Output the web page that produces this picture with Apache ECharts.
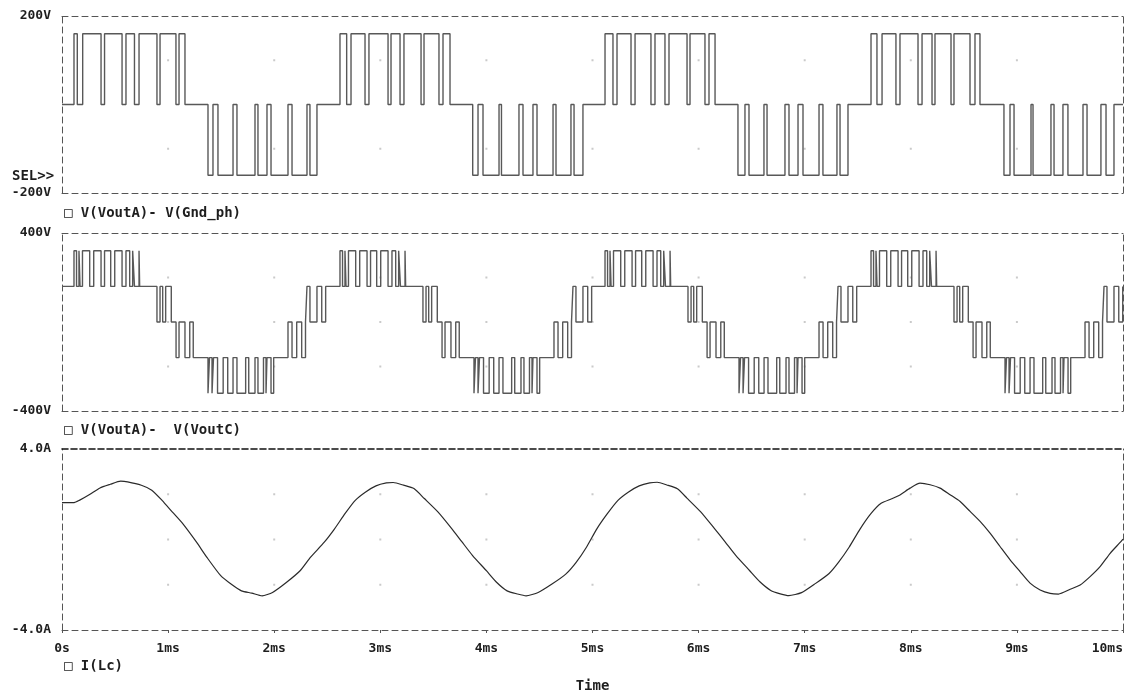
<!DOCTYPE html>
<html>
<head>
<meta charset="utf-8">
<script src="https://cdn.jsdelivr.net/npm/echarts@6/dist/echarts.min.js"></script>
<style>
  html, body { margin: 0; padding: 0; background: #fff; }
  #chart { width: 1132px; height: 696px; }
</style>
</head>
<body>
<div id="chart"></div>
<script>
// Time axis (ms) and its tick values
const timeTicks = [0, 1, 2, 3, 4, 5, 6, 7, 8, 9, 10];

// V(VoutA)-V(Gnd_ph): level (V) that holds from each switching instant (ms)
const phaseStart = 0;
const phaseSteps = [
  [0.113, 160], [0.144, 0], [0.195, 160], [0.368, 0], [0.401, 160], [0.566, 0], [0.603, 160],
  [0.683, 0], [0.726, 160], [0.895, 0], [0.924, 160], [1.074, 0], [1.103, 160], [1.159, 0],
  [1.376, -160], [1.423, 0], [1.470, -160], [1.612, 0], [1.649, -160], [1.819, 0], [1.847, -160],
  [1.932, 0], [1.970, -160], [2.130, 0], [2.168, -160], [2.309, 0], [2.337, -160], [2.403, 0],
  [2.620, 160], [2.683, 0], [2.724, 160], [2.856, 0], [2.893, 160], [3.073, 0], [3.101, 160],
  [3.186, 0], [3.223, 160], [3.384, 0], [3.412, 160], [3.553, 0], [3.591, 160], [3.657, 0],
  [3.871, -160], [3.921, 0], [3.968, -160], [4.119, 0], [4.142, -160], [4.307, 0], [4.345, -160],
  [4.439, 0], [4.477, -160], [4.628, 0], [4.656, -160], [4.797, 0], [4.826, -160], [4.910, 0],
  [5.118, 160], [5.193, 0], [5.231, 160], [5.363, 0], [5.401, 160], [5.551, 0], [5.589, 160],
  [5.683, 0], [5.721, 160], [5.891, 0], [5.919, 160], [6.060, 0], [6.098, 160], [6.155, 0],
  [6.371, -160], [6.437, 0], [6.475, -160], [6.616, 0], [6.645, -160], [6.814, 0], [6.852, -160],
  [6.937, 0], [6.984, -160], [7.135, 0], [7.172, -160], [7.304, 0], [7.333, -160], [7.408, 0],
  [7.625, 160], [7.681, 0], [7.729, 160], [7.860, 0], [7.898, 160], [8.068, 0], [8.106, 160],
  [8.200, 0], [8.228, 160], [8.379, 0], [8.407, 160], [8.558, 0], [8.605, 160], [8.652, 0],
  [8.878, -160], [8.935, 0], [8.973, -160], [9.133, 0], [9.152, -160], [9.321, 0], [9.350, -160],
  [9.434, 0], [9.481, -160], [9.623, 0], [9.661, -160], [9.792, 0], [9.840, -160], [9.915, 0]
];

// V(VoutA)-V(VoutC): five-level line voltage, level (V) from each instant (ms)
const lineStart = 160;
const lineSteps = [
  [0.113, 320], [0.137, 160], [0.160, 320], [0.170, 160], [0.193, 320], [0.261, 160], [0.299, 320],
  [0.368, 160], [0.401, 320], [0.459, 160], [0.497, 320], [0.566, 160], [0.603, 320], [0.638, 160],
  [0.666, 320], [0.683, 160], [0.726, 320], [0.732, 160], [0.895, 0], [0.924, 160], [0.949, 0],
  [0.977, 160], [1.030, 0], [1.075, -160], [1.103, 0], [1.159, -160], [1.204, 0], [1.237, -160],
  [1.376, -320], [1.390, -160], [1.414, -320], [1.428, -160], [1.466, -320], [1.519, -160],
  [1.562, -320], [1.612, -160], [1.649, -320], [1.731, -160], [1.760, -320], [1.819, -160],
  [1.847, -320], [1.899, -160], [1.923, -320], [1.932, -160], [1.970, -320], [1.995, -160],
  [2.130, 0], [2.168, -160], [2.212, 0], [2.259, -160], [2.295, 0], [2.309, 160], [2.337, 0],
  [2.403, 160], [2.448, 0], [2.485, 160],
  [2.620, 320], [2.644, 160], [2.667, 320], [2.677, 160], [2.700, 320], [2.768, 160], [2.806, 320],
  [2.875, 160], [2.908, 320], [2.966, 160], [3.004, 320], [3.073, 160], [3.110, 320], [3.145, 160],
  [3.173, 320], [3.190, 160], [3.233, 320], [3.239, 160], [3.402, 0], [3.431, 160], [3.456, 0],
  [3.484, 160], [3.537, 0], [3.582, -160], [3.610, 0], [3.666, -160], [3.711, 0], [3.744, -160],
  [3.883, -320], [3.897, -160], [3.921, -320], [3.935, -160], [3.973, -320], [4.026, -160],
  [4.069, -320], [4.119, -160], [4.156, -320], [4.238, -160], [4.267, -320], [4.326, -160],
  [4.354, -320], [4.406, -160], [4.430, -320], [4.439, -160], [4.477, -320], [4.502, -160],
  [4.637, 0], [4.675, -160], [4.719, 0], [4.766, -160], [4.802, 0], [4.816, 160], [4.844, 0],
  [4.910, 160], [4.955, 0], [4.992, 160],
  [5.118, 320], [5.142, 160], [5.165, 320], [5.175, 160], [5.198, 320], [5.266, 160], [5.304, 320],
  [5.373, 160], [5.406, 320], [5.464, 160], [5.502, 320], [5.571, 160], [5.608, 320], [5.643, 160],
  [5.671, 320], [5.688, 160], [5.731, 320], [5.737, 160], [5.900, 0], [5.929, 160], [5.954, 0],
  [5.982, 160], [6.035, 0], [6.080, -160], [6.108, 0], [6.164, -160], [6.209, 0], [6.242, -160],
  [6.381, -320], [6.395, -160], [6.419, -320], [6.433, -160], [6.471, -320], [6.524, -160],
  [6.567, -320], [6.617, -160], [6.654, -320], [6.736, -160], [6.765, -320], [6.824, -160],
  [6.852, -320], [6.904, -160], [6.928, -320], [6.937, -160], [6.975, -320], [7.000, -160],
  [7.135, 0], [7.173, -160], [7.217, 0], [7.264, -160], [7.300, 0], [7.314, 160], [7.342, 0],
  [7.408, 160], [7.453, 0], [7.490, 160],
  [7.625, 320], [7.649, 160], [7.672, 320], [7.682, 160], [7.705, 320], [7.773, 160], [7.811, 320],
  [7.880, 160], [7.913, 320], [7.971, 160], [8.009, 320], [8.078, 160], [8.115, 320], [8.150, 160],
  [8.178, 320], [8.195, 160], [8.238, 320], [8.244, 160], [8.407, 0], [8.436, 160], [8.461, 0],
  [8.489, 160], [8.542, 0], [8.587, -160], [8.615, 0], [8.671, -160], [8.716, 0], [8.749, -160],
  [8.888, -320], [8.902, -160], [8.926, -320], [8.940, -160], [8.978, -320], [9.031, -160],
  [9.074, -320], [9.124, -160], [9.161, -320], [9.243, -160], [9.272, -320], [9.331, -160],
  [9.359, -320], [9.411, -160], [9.435, -320], [9.444, -160], [9.482, -320], [9.507, -160],
  [9.642, 0], [9.680, -160], [9.724, 0], [9.771, -160], [9.807, 0], [9.821, 160], [9.849, 0],
  [9.915, 160], [9.960, 0], [9.997, 160]
];

// I(Lc): inductor current samples (ms, A)
const currentTimes = [
  0, 0.114, 0.163, 0.26, 0.358, 0.455, 0.553, 0.618, 0.748, 0.846, 0.943, 1.041, 1.138, 1.268,
  1.366, 1.496, 1.593, 1.691, 1.789, 1.886, 1.984, 2.114, 2.244, 2.341, 2.472, 2.569, 2.667,
  2.764, 2.862, 2.959, 3.057, 3.122, 3.220, 3.317, 3.415, 3.545, 3.675, 3.772, 3.870, 4.000,
  4.098, 4.195, 4.293, 4.374, 4.488, 4.618, 4.748, 4.846, 4.943, 5.041, 5.14, 5.24, 5.34, 5.44,
  5.54, 5.61, 5.70, 5.80, 5.89, 6.02, 6.15, 6.25, 6.35, 6.48, 6.58, 6.68, 6.77, 6.85, 6.97,
  7.10, 7.23, 7.32, 7.42, 7.52, 7.62, 7.72, 7.82, 7.898, 7.993, 8.087, 8.182, 8.276, 8.370,
  8.465, 8.559, 8.653, 8.747, 8.841, 8.936, 9.030, 9.124, 9.219, 9.313, 9.392, 9.502, 9.596,
  9.690, 9.784, 9.879, 9.973, 10.0
];
const currentValues = [
  1.63, 1.63, 1.73, 1.99, 2.28, 2.44, 2.58, 2.55, 2.40, 2.18, 1.73, 1.21, 0.70, -0.12,
  -0.79, -1.60, -1.97, -2.27, -2.37, -2.49, -2.34, -1.90, -1.38, -0.79, -0.12, 0.47, 1.14,
  1.73, 2.10, 2.37, 2.50, 2.52, 2.40, 2.25, 1.81, 1.21, 0.47, -0.12, -0.71, -1.38,
  -1.90, -2.27, -2.41, -2.49, -2.34, -1.97, -1.53, -1.01, -0.34, 0.47, 1.14, 1.73, 2.10, 2.37,
  2.50, 2.53, 2.41, 2.24, 1.83, 1.22, 0.48, -0.10, -0.70, -1.37, -1.88, -2.25, -2.40, -2.48, -2.35,
  -1.95, -1.50, -1.00, -0.33, 0.45, 1.12, 1.60, 1.80, 1.97, 2.27, 2.49, 2.42, 2.27, 1.98,
  1.68, 1.24, 0.80, 0.28, -0.31, -0.90, -1.42, -1.93, -2.23, -2.38, -2.41, -2.20, -2.01,
  -1.64, -1.20, -0.61, -0.13, 0.02
];

// Dotted grid rows for each plot
const phaseDotLevels = [-100, 100];
const lineDotLevels = [-200, 0, 200];
const currentDotLevels = [-2, 0, 2];

const FONT = '"DejaVu Sans Mono", monospace';
const TEXT = '#1e1e1e';

// Expand level changes into a stepped polyline
function stepTrace(initial, steps) {
  const pts = [[0, initial]];
  let level = initial;
  for (const [t, v] of steps) {
    pts.push([t, level]);
    pts.push([t, v]);
    level = v;
  }
  pts.push([10, level]);
  return pts;
}

function dotGrid(levels) {
  const out = [];
  timeTicks.slice(1, -1).forEach(t => levels.forEach(v => out.push([t, v])));
  return out;
}

const frame = { color: '#555', width: 1, type: [6, 4] };
const frameDark = { color: '#111', width: 1.6, type: [6, 3] };

const grids = [
  { left: 62, right: 9, top: 16, height: 177 },
  { left: 62, right: 9, top: 233, height: 178 },
  { left: 62, right: 9, top: 449, height: 181 }
];

const xAxes = [];
const yAxes = [];
const yLimits = [
  { min: -200, max: 200, step: 100, fmt: v => (Math.abs(v) === 200 ? v + 'V' : '') },
  { min: -400, max: 400, step: 200, fmt: v => (Math.abs(v) === 400 ? v + 'V' : '') },
  { min: -4, max: 4, step: 2, fmt: v => (Math.abs(v) === 4 ? v.toFixed(1) + 'A' : '') }
];

grids.forEach((g, i) => {
  const last = i === 2;
  xAxes.push({
    gridIndex: i, type: 'value', min: 0, max: 10, interval: 1, position: 'bottom',
    axisLine: { show: true, onZero: false, lineStyle: frame },
    axisTick: { show: last, length: 3, lineStyle: { color: '#555' } },
    axisLabel: {
      show: last, margin: 12, fontFamily: FONT, fontWeight: 'bold', fontSize: 13, color: TEXT,
      formatter: v => (v === 0 ? '0s' : v + 'ms'), alignMaxLabel: 'right'
    },
    splitLine: { show: false },
    name: last ? 'Time' : '', nameLocation: 'middle', nameGap: 49,
    nameTextStyle: { fontFamily: FONT, fontWeight: 'bold', fontSize: 14, color: TEXT }
  });
  xAxes.push({
    gridIndex: i, type: 'value', min: 0, max: 10, interval: 1, position: 'top',
    axisLine: { show: true, onZero: false, lineStyle: last ? frameDark : frame },
    axisTick: { show: false }, axisLabel: { show: false }, splitLine: { show: false }
  });
  const lim = yLimits[i];
  yAxes.push({
    gridIndex: i, type: 'value', min: lim.min, max: lim.max, interval: lim.step, position: 'left',
    axisLine: { show: true, onZero: false, lineStyle: frame },
    axisTick: { show: false },
    axisLabel: { margin: 11, fontFamily: FONT, fontWeight: 'bold', fontSize: 13, color: TEXT, formatter: lim.fmt },
    splitLine: { show: false }
  });
  yAxes.push({
    gridIndex: i, type: 'value', min: lim.min, max: lim.max, interval: lim.step, position: 'right',
    axisLine: { show: true, onZero: false, lineStyle: frame },
    axisTick: { show: false }, axisLabel: { show: false }, splitLine: { show: false }
  });
});

function dots(i, levels) {
  return {
    type: 'scatter', xAxisIndex: 2 * i, yAxisIndex: 2 * i, data: dotGrid(levels),
    symbol: 'rect', symbolSize: 2, itemStyle: { color: '#bdbdbd' }, silent: true, z: 1
  };
}

const option = {
  backgroundColor: '#fff',
  animation: false,
  grid: grids,
  xAxis: xAxes,
  yAxis: yAxes,
  series: [
    dots(0, phaseDotLevels),
    dots(1, lineDotLevels),
    dots(2, currentDotLevels),
    {
      type: 'line', xAxisIndex: 0, yAxisIndex: 0, data: stepTrace(phaseStart, phaseSteps),
      showSymbol: false, lineStyle: { color: '#585858', width: 1.4 }, silent: true, z: 3
    },
    {
      type: 'line', xAxisIndex: 2, yAxisIndex: 2, data: stepTrace(lineStart, lineSteps),
      showSymbol: false, lineStyle: { color: '#585858', width: 1.4 }, silent: true, z: 3
    },
    {
      type: 'line', xAxisIndex: 4, yAxisIndex: 4,
      data: currentTimes.map((t, k) => [t, currentValues[k]]),
      showSymbol: false, smooth: 0.2, lineStyle: { color: '#2a2a2a', width: 1.2 }, silent: true, z: 3
    }
  ],
  graphic: [
    { type: 'text', left: 12, top: 169, style: { text: 'SEL>>', font: 'bold 14px ' + FONT, fill: TEXT } },
    { type: 'text', left: 64, top: 206, style: { text: '\u25A1 V(VoutA)- V(Gnd_ph)', font: 'bold 14px ' + FONT, fill: TEXT } },
    { type: 'text', left: 64, top: 423, style: { text: '\u25A1 V(VoutA)-  V(VoutC)', font: 'bold 14px ' + FONT, fill: TEXT } },
    { type: 'text', left: 64, top: 659, style: { text: '\u25A1 I(Lc)', font: 'bold 14px ' + FONT, fill: TEXT } }
  ]
};

echarts.init(document.getElementById('chart'), null, { renderer: 'canvas' }).setOption(option);
</script>
</body>
</html>
